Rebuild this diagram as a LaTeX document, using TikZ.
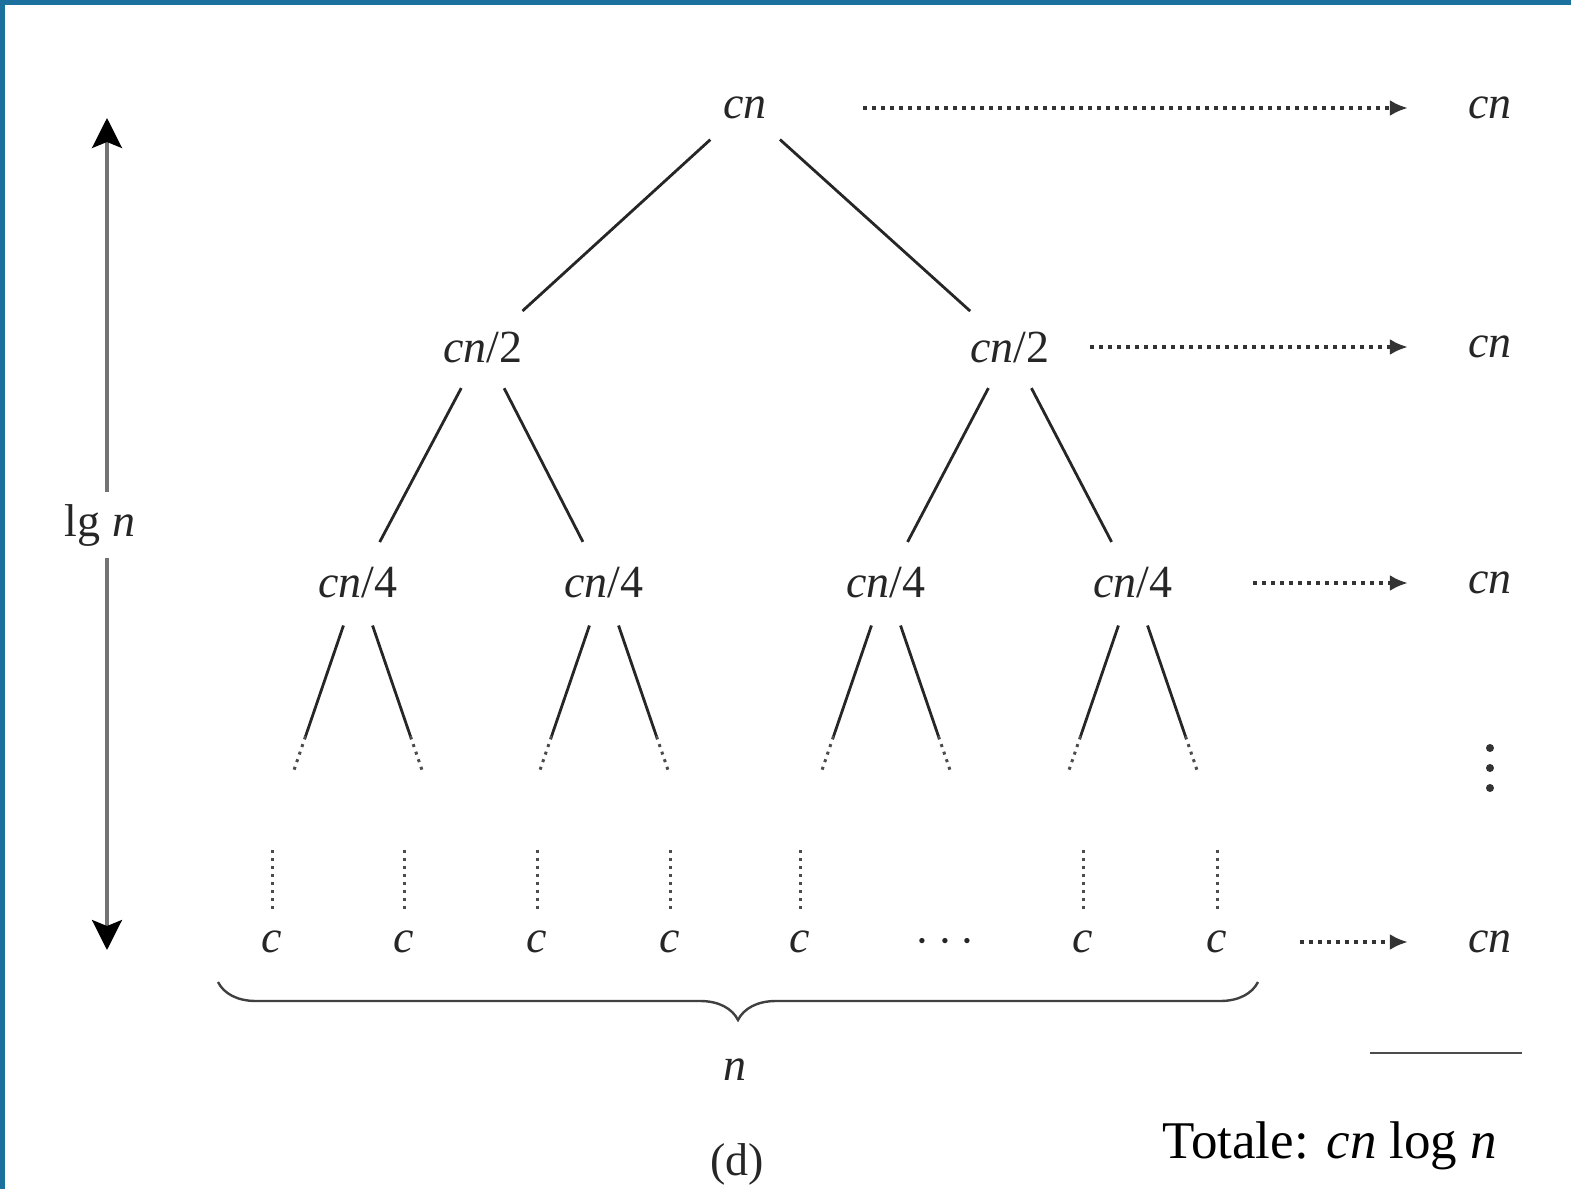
\documentclass[tikz,border=0pt]{standalone}
\usepackage{fontspec}
\setmainfont{Liberation Serif}
\usetikzlibrary{arrows.meta,decorations.pathreplacing}
\definecolor{slideblue}{RGB}{28,112,158}

\begin{document}
\begin{tikzpicture}[x=0.5pt,y=-0.5pt,
    lbl/.style={inner sep=2pt,text=black!85,font=\fontsize{23}{26}\selectfont},
    edge/.style={line width=1.4pt,black!85,shorten <=12pt,shorten >=12pt},
    sumarrow/.style={line width=1.8pt,black!80,dash pattern=on 2pt off 2.5pt,-{Latex[length=9pt,width=8pt]},shorten >=28pt},
    leafdots/.style={line width=1.5pt,black!70,dash pattern=on 1.5pt off 2.5pt}]
    \useasboundingbox (0,0) rectangle (1571,1189);
    % slide frame
    \fill[slideblue] (0,0) rectangle (1571,5);
    \fill[slideblue] (0,0) rectangle (5,1189);

    % Recursion tree
    \node[lbl] (r) at (745,108) {\textit{cn}};
    \node[lbl] (a1) at (483,347) {\textit{cn}/2};
    \node[lbl] (a2) at (1010,347) {\textit{cn}/2};
    \foreach \x [count=\i] in {358,604,886,1133}
        \node[lbl] (b\i) at (\x,583) {\textit{cn}/4};

    \draw[edge] (r)--(a1); \draw[edge] (r)--(a2);
    \draw[edge] (a1)--(b1); \draw[edge] (a1)--(b2);
    \draw[edge] (a2)--(b3); \draw[edge] (a2)--(b4);

    % lower levels fade into dots
    \foreach \x [count=\i] in {358,604,886,1133} {
        \coordinate (dl\i) at (\x-64,770);
        \coordinate (dr\i) at (\x+64,770);
        \path (b\i) -- coordinate[pos=0.8] (ml\i) (dl\i);
        \path (b\i) -- coordinate[pos=0.8] (mr\i) (dr\i);
        \draw[edge,shorten >=0pt] (b\i)--(ml\i); \draw[leafdots] (ml\i)--(dl\i);
        \draw[edge,shorten >=0pt] (b\i)--(mr\i); \draw[leafdots] (mr\i)--(dr\i);
    }

    % leaves
    \foreach \x/\t [count=\i] in {272/\textit{c},404/\textit{c},537/\textit{c},670/\textit{c},
                                  800/\textit{c},945/{$\cdots$},1083/\textit{c},1217/\textit{c}} {
        \node[lbl] (c\i) at (\x,942) {\t};
        \ifnum\i=6\else
            \draw[leafdots] ([yshift=9pt]c\i.north) -- ++(0,-62);
        \fi
    }

    % cost per level
    \foreach \y [count=\i] in {108,347,583,942}
        \node[lbl] (s\i) at (1490,\y) {\textit{cn}};
    \foreach \a/\s [count=\i] in {r/46pt,a2/18pt,b4/38pt,c8/34pt}
        \draw[sumarrow,shorten <=\s] (\a) -- (s\i);
    \foreach \y in {748,768,788} \fill[black!80] (1490,\y) circle (2pt);

    % height of the tree
    \coordinate (top) at (107,118);
    \coordinate (bot) at (107,950);
    \draw[line width=1.6pt,black!55,
        {Stealth[length=15pt,width=15pt,inset=3pt,color=black]}-{Stealth[length=15pt,width=15pt,inset=3pt,color=black]}]
        (top)--(bot);
    \node[lbl,fill=white,inner sep=6pt] (lg) at (100,525) {lg \textit{n}};

    % number of leaves
    \coordinate (bl) at (218,982);
    \coordinate (br) at (1258,982);
    \draw[line width=1.2pt,black!75,decorate,decoration={brace,mirror,amplitude=19pt}] (bl)--(br);
    \node[lbl] (n) at (735,1070) {\textit{n}};
    \node[lbl] (d) at (737,1164) {(d)};

    % total
    \draw[line width=1.2pt,black!70] (1370,1053) -- (1522,1053);
    \node[anchor=base west,inner sep=0pt,font=\fontsize{26.5}{30}\selectfont] (tot) at (1162,1158)
        {Totale: \textit{cn} log \textit{n}};
\end{tikzpicture}
\end{document}
